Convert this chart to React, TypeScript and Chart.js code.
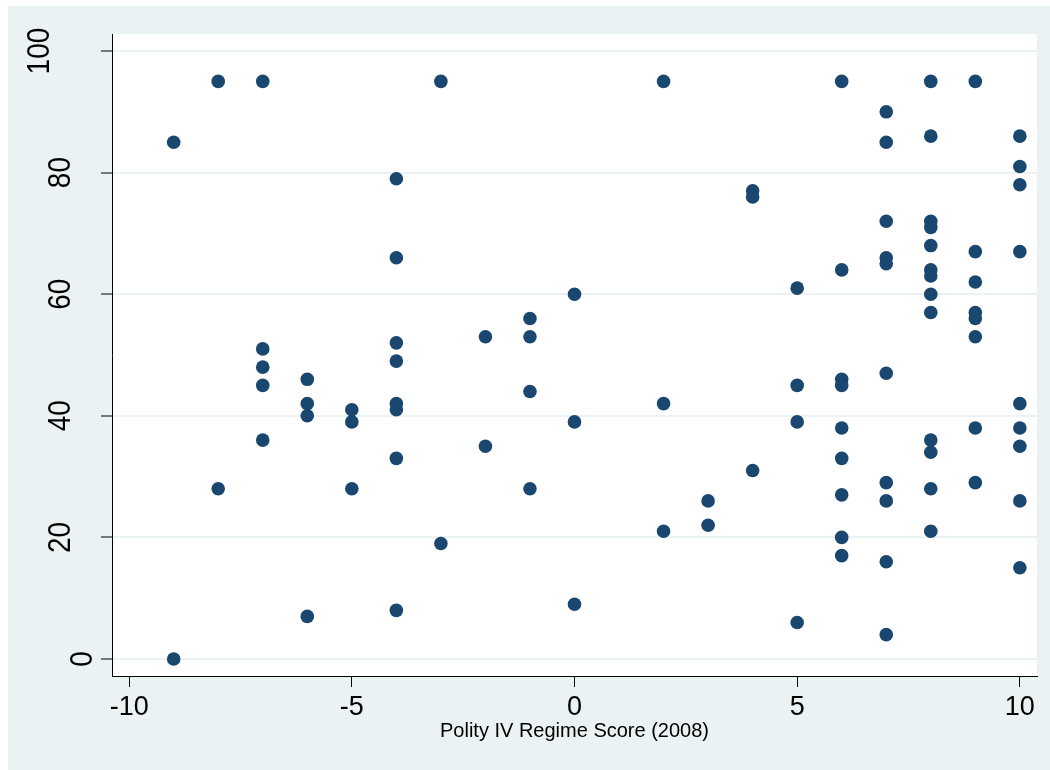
import React, { useEffect, useRef } from "react";
import { Chart, registerables } from "chart.js";

Chart.register(...registerables);

// Polity IV regime score (x) for each country
const polityScores = [
  -9, -9,
  -8, -8,
  -7, -7, -7, -7, -7,
  -6, -6, -6, -6,
  -5, -5, -5,
  -4, -4, -4, -4, -4, -4, -4, -4,
  -3, -3,
  -2, -2,
  -1, -1, -1, -1,
  0, 0, 0,
  2, 2, 2,
  3, 3,
  4, 4, 4,
  5, 5, 5, 5,
  6, 6, 6, 6, 6, 6, 6, 6, 6,
  7, 7, 7, 7, 7, 7, 7, 7, 7, 7,
  8, 8, 8, 8, 8, 8, 8, 8, 8, 8, 8, 8, 8,
  9, 9, 9, 9, 9, 9, 9, 9,
  10, 10, 10, 10, 10, 10, 10, 10, 10,
];

// Outcome value (y) for each country, same order
const outcomeValues = [
  85, 0,
  95, 28,
  95, 51, 48, 45, 36,
  46, 42, 40, 7,
  41, 39, 28,
  79, 66, 52, 49, 42, 41, 33, 8,
  95, 19,
  53, 35,
  56, 53, 44, 28,
  60, 39, 9,
  95, 42, 21,
  26, 22,
  77, 76, 31,
  61, 45, 39, 6,
  95, 64, 46, 45, 38, 33, 27, 20, 17,
  90, 85, 72, 66, 65, 47, 29, 26, 16, 4,
  95, 86, 72, 71, 68, 64, 63, 60, 57, 36, 34, 28, 21,
  95, 67, 62, 57, 56, 53, 38, 29,
  86, 81, 78, 67, 42, 38, 35, 26, 15,
];

const xTickValues = [-10, -5, 0, 5, 10];
const yTickValues = [0, 20, 40, 60, 80, 100];
const xAxisTitle = "Polity IV Regime Score (2008)";

const W = 1042;
const H = 764;
const BG = "#eaf2f3";
const MARK = "#1a476f";
const FONT = "'Liberation Sans', Arial, Helvetica, sans-serif";

export default function App() {
  const ref = useRef<HTMLCanvasElement | null>(null);

  useEffect(() => {
    const canvas = ref.current;
    if (!canvas) return;

    const bgPlugin = {
      id: "stataBg",
      beforeDraw(chart: any) {
        const { ctx, chartArea: a } = chart;
        ctx.save();
        ctx.fillStyle = BG;
        ctx.fillRect(0, 0, chart.width, chart.height);
        ctx.fillStyle = "#ffffff";
        ctx.fillRect(a.left, a.top, a.right - a.left, a.bottom - a.top);
        ctx.restore();
      },
    };

    const yLabelPlugin = {
      id: "rotatedYLabels",
      afterDraw(chart: any) {
        const s = chart.scales.y;
        const ctx = chart.ctx;
        ctx.save();
        ctx.fillStyle = "#000";
        ctx.font = `28px ${FONT}`;
        ctx.textAlign = "center";
        ctx.textBaseline = "alphabetic";
        for (const t of s.ticks) {
          const label = String(t.value);
          const py = s.getPixelForValue(t.value);
          const baseX = s.left + 105 - 21.5 * label.length;
          ctx.save();
          ctx.translate(baseX, py);
          ctx.rotate(-Math.PI / 2);
          ctx.scale(1, 1.1);
          ctx.fillText(label, 0, 0);
          ctx.restore();
        }
        ctx.restore();
      },
    };

    const chart = new Chart(canvas, {
      type: "scatter",
      data: {
        datasets: [
          {
            data: polityScores.map((x, i) => ({ x, y: outcomeValues[i] })),
            backgroundColor: MARK,
            borderColor: MARK,
            borderWidth: 0,
            pointRadius: 6.8,
            pointHoverRadius: 6.8,
          },
        ],
      },
      options: {
        responsive: false,
        animation: false,
        events: [],
        layout: { padding: { top: 28, right: 13, left: 0, bottom: 0 } },
        plugins: {
          legend: { display: false },
          tooltip: { enabled: false },
        },
        scales: {
          x: {
            type: "linear",
            min: -10.385,
            max: 10.385,
            afterBuildTicks: (s: any) => {
              s.ticks = xTickValues.map((v) => ({ value: v }));
            },
            afterFit: (s: any) => {
              s.height = 94;
            },
            grid: {
              drawOnChartArea: false,
              drawTicks: true,
              tickLength: 11,
              tickColor: "#000",
              tickWidth: 1,
            },
            border: { display: true, color: "#000", width: 1 },
            ticks: {
              color: "#000",
              font: { family: FONT, size: 27 },
              padding: 4,
              maxRotation: 0,
              autoSkip: false,
            },
            title: {
              display: true,
              text: xAxisTitle,
              color: "#000",
              font: { family: FONT, size: 20 },
              padding: { top: 0, bottom: 27 },
            },
          },
          y: {
            type: "linear",
            min: -2.8,
            max: 102.8,
            afterBuildTicks: (s: any) => {
              s.ticks = yTickValues.map((v) => ({ value: v }));
            },
            afterFit: (s: any) => {
              s.width = 104;
            },
            grid: {
              color: BG,
              lineWidth: 2,
              drawTicks: true,
              tickLength: 11,
              tickColor: "#000",
              tickWidth: 1,
            },
            border: { display: true, color: "#000", width: 1 },
            ticks: { display: false },
          },
        },
      } as any,
      plugins: [bgPlugin, yLabelPlugin],
    });

    return () => chart.destroy();
  }, []);

  return (
    <div style={{ position: "absolute", left: 8, top: 6, width: W, height: H }}>
      <canvas ref={ref} width={W} height={H} style={{ width: W, height: H, display: "block" }} />
    </div>
  );
}
